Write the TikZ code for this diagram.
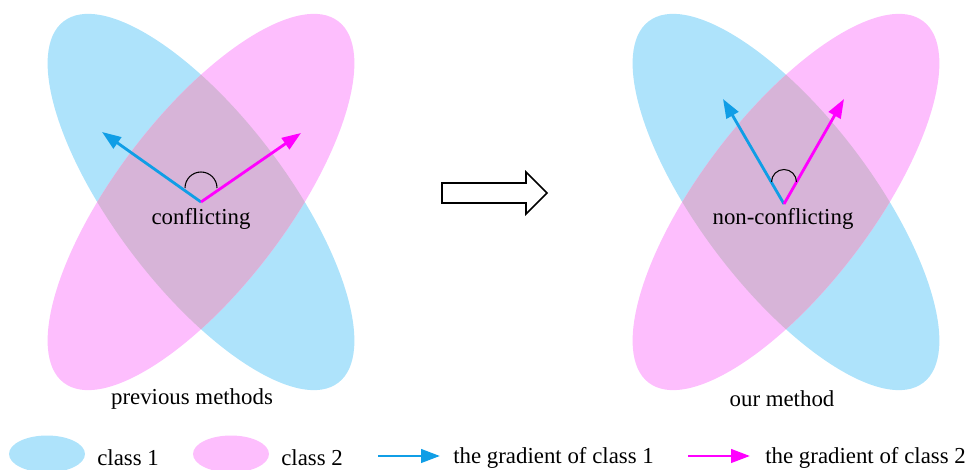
\documentclass[tikz,border=0pt]{standalone}
\usepackage{fontspec}
\setmainfont{Liberation Serif}
\usetikzlibrary{arrows.meta,positioning}
\definecolor{ClassBlue}{RGB}{174,227,251}
\definecolor{ClassPink}{RGB}{253,190,253}
\definecolor{OverlapMix}{RGB}{215,180,216}
\definecolor{GradBlue}{RGB}{16,158,230}
\definecolor{GradPink}{RGB}{255,0,255}

\begin{document}
\begin{tikzpicture}[x=0.02cm,y=0.02cm,
    lbl/.style={font=\fontsize{13}{15}\selectfont,inner sep=0pt},
    grad/.style={line width=1.6pt,-{Triangle[length=0.38cm,width=0.27cm]}}]
  \useasboundingbox (0,0) rectangle (965,470);
  % Class ellipses with their overlap
  \foreach \cx in {201,786} {
    \fill[ClassBlue,rotate around={-52.8:(\cx,268)}] (\cx,268)
      ellipse[x radius=4.54cm,y radius=1.72cm];
    \fill[ClassPink,rotate around={52.8:(\cx,268)}] (\cx,268)
      ellipse[x radius=4.54cm,y radius=1.72cm];
    \begin{scope}
      \clip[rotate around={-52.8:(\cx,268)}] (\cx,268)
        ellipse[x radius=4.54cm,y radius=1.72cm];
      \fill[OverlapMix,rotate around={52.8:(\cx,268)}] (\cx,268)
        ellipse[x radius=4.54cm,y radius=1.72cm];
    \end{scope}
  }
  % Previous methods
  \coordinate (O1) at (201,268);
  \coordinate (B1) at (102,338);
  \coordinate (P1) at (301,337);
  \draw[grad,GradBlue] (O1) -- (B1);
  \draw[grad,GradPink] (O1) -- (P1);
  \draw[line width=0.6pt] ([shift={(16,14)}]O1) arc[start angle=0,end angle=180,radius=0.32cm];
  \node[lbl] (conf) at (201,251) {conflicting};
  \node[lbl] (prev) at (192,71) {previous methods};
  % Transition arrow
  \draw[line width=0.9pt] (442,267) -- (526,267) -- (526,256) -- (547,277)
    -- (526,298) -- (526,287) -- (442,287) -- cycle;
  % Our method
  \coordinate (O2) at (784,266);
  \coordinate (B2) at (723,371);
  \coordinate (P2) at (844,371);
  \draw[grad,GradBlue] (O2) -- (B2);
  \draw[grad,GradPink] (O2) -- (P2);
  \draw[line width=0.6pt] ([shift={(12.5,22)}]O2) arc[start angle=0,end angle=180,radius=0.25cm];
  \node[lbl] (nonconf) at (783,251) {non-conflicting};
  \node[lbl] (ours) at (782,71) {our method};
  % Legend
  \fill[ClassBlue] (47,16) ellipse[x radius=0.76cm,y radius=0.37cm];
  \node[lbl,anchor=west] (leg1) at (97,12) {class 1};
  \fill[ClassPink] (231,16) ellipse[x radius=0.76cm,y radius=0.37cm];
  \node[lbl,anchor=west] (leg2) at (281,12) {class 2};
  \coordinate (g1s) at (378,14);
  \coordinate (g1e) at (440,14);
  \draw[grad,GradBlue] (g1s) -- (g1e);
  \node[lbl,anchor=west] (leg3) at (453,12) {the gradient of class 1};
  \coordinate (g2s) at (688,14);
  \coordinate (g2e) at (750,14);
  \draw[grad,GradPink] (g2s) -- (g2e);
  \node[lbl,anchor=west] (leg4) at (765,12) {the gradient of class 2};
\end{tikzpicture}
\end{document}
